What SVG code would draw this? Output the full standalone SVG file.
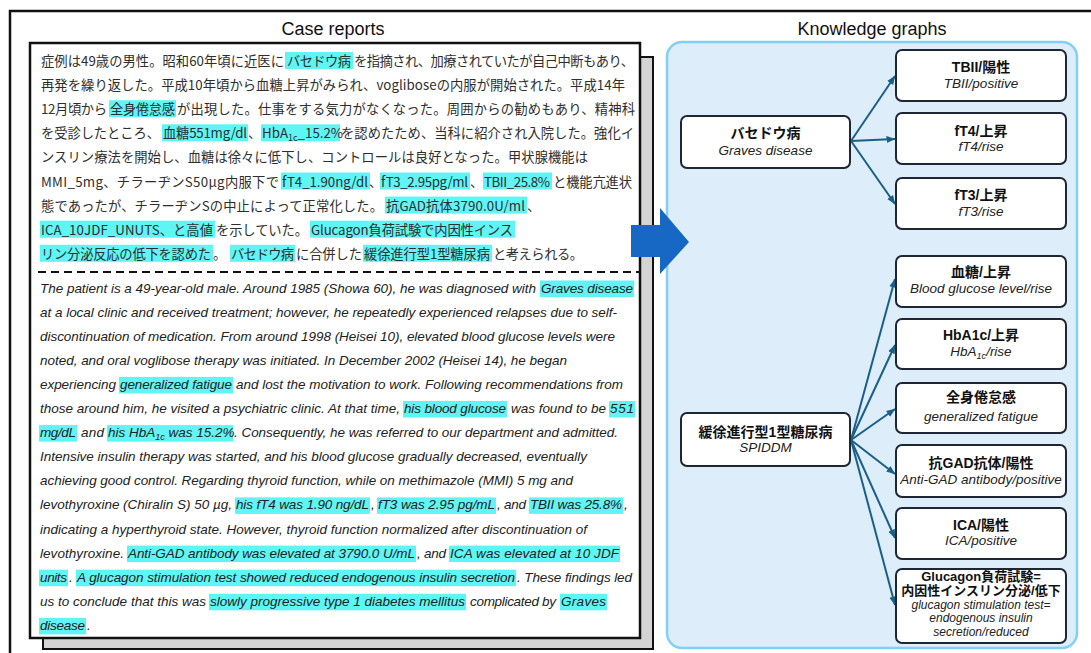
<svg xmlns="http://www.w3.org/2000/svg" width="1091" height="653" viewBox="0 0 1091 653">
<defs>
<style>
.jp{font-family:"Noto Sans CJK JP","Noto Sans CJK SC",sans-serif;font-size:13.3px;fill:#2e2e2e}
.en{font-family:"Liberation Sans",Arial,sans-serif;font-style:italic;font-size:13.5px;fill:#222}
.hl{fill:#5ff5f5}
.title{font-family:"Liberation Sans",Arial,sans-serif;font-size:18px;fill:#111;text-anchor:middle}
.box{fill:#fff;stroke:#1c2733;stroke-width:2}
.nb{font-family:"Liberation Sans","Noto Sans CJK JP",sans-serif;font-weight:bold;font-size:14px;fill:#111;text-anchor:middle}
.ni{font-family:"Liberation Sans",Arial,sans-serif;font-style:italic;font-size:13.5px;fill:#222;text-anchor:middle}
.nb2{font-size:13px}
.ni2{font-size:12px}
.edge{stroke:#1a5f87;stroke-width:2;fill:none;marker-end:url(#ah)}
</style>
<marker id="ah" markerWidth="9" markerHeight="8" refX="8.5" refY="4" orient="auto" markerUnits="userSpaceOnUse">
<path d="M0,0.5 L9,4 L0,7.5 Z" fill="#1a5f87"/>
</marker>
</defs>
<rect width="1091" height="653" fill="#fff"/>
<!-- outer frame -->
<rect x="10" y="11" width="1100" height="700" fill="none" stroke="#111" stroke-width="2.5"/>
<text class="title" x="333" y="34.5">Case reports</text>
<text class="title" x="872" y="34.5">Knowledge graphs</text>

<!-- case report document -->
<g id="case-report">
<rect x="43" y="57" width="610" height="592" fill="#d4d4d4" stroke="#111" stroke-width="2"/>
<rect x="30" y="43" width="610" height="595" fill="#fff" stroke="#111" stroke-width="2.5"/>
<!-- Japanese highlights -->
<g class="hl">
<rect x="285" y="52" width="68" height="17"/>
<rect x="109" y="100.2" width="67" height="17"/>
<rect x="162" y="124.3" width="86" height="17"/>
<rect x="261" y="124.3" width="79" height="17"/>
<rect x="281" y="172.5" width="89" height="17"/>
<rect x="380" y="172.5" width="90" height="17"/>
<rect x="483" y="172.5" width="69" height="17"/>
<rect x="385" y="196.6" width="142" height="17"/>
<rect x="40" y="220.7" width="175" height="17"/>
<rect x="310" y="220.7" width="205" height="17"/>
<rect x="40" y="244.8" width="173" height="17"/>
<rect x="230" y="244.8" width="65" height="17"/>
<rect x="363" y="244.8" width="129" height="17"/>
</g>
<text class="jp" y="66"><tspan x="41" textLength="243">症例は49歳の男性。昭和60年頃に近医に</tspan><tspan x="287" textLength="64">バセドウ病</tspan><tspan x="354" textLength="280">を指摘され、加療されていたが自己中断もあり、</tspan></text>
<text class="jp" y="90.1" x="41" textLength="584">再発を繰り返した。平成10年頃から血糖上昇がみられ、vogliboseの内服が開始された。平成14年</text>
<text class="jp" y="114.2"><tspan x="41" textLength="66">12月頃から</tspan><tspan x="110" textLength="65">全身倦怠感</tspan><tspan x="177" textLength="458">が出現した。仕事をする気力がなくなった。周囲からの勧めもあり、精神科</tspan></text>
<text class="jp" y="138.3"><tspan x="41" textLength="119">を受診したところ、</tspan><tspan x="163" textLength="84">血糖551mg/dl</tspan><tspan x="248">、</tspan><tspan x="262">HbA</tspan><tspan dy="3" font-size="9">1c</tspan><tspan dy="-3">_15.2%</tspan><tspan x="341" textLength="293">を認めたため、当科に紹介され入院した。強化イ</tspan></text>
<text class="jp" y="162.4" x="41" textLength="547">ンスリン療法を開始し、血糖は徐々に低下し、コントロールは良好となった。甲状腺機能は</text>
<text class="jp" y="186.5"><tspan x="41" textLength="238">MMI_5mg、チラーヂンS50μg内服下で</tspan><tspan x="282" textLength="86">fT4_1.90ng/dl</tspan><tspan x="369">、</tspan><tspan x="381" textLength="87">fT3_2.95pg/ml</tspan><tspan x="470">、</tspan><tspan x="484" textLength="66">TBII_25.8%</tspan><tspan x="553" textLength="79">と機能亢進状</tspan></text>
<text class="jp" y="210.6"><tspan x="41" textLength="342">態であったが、チラーヂンSの中止によって正常化した。</tspan><tspan x="386" textLength="139">抗GAD抗体3790.0U/ml</tspan><tspan x="527">、</tspan></text>
<text class="jp" y="234.7"><tspan x="41" textLength="172">ICA_10JDF_UNUTS、と高値</tspan><tspan x="216" textLength="92">を示していた。</tspan><tspan x="311" textLength="202">Glucagon負荷試験で内因性インス</tspan></text>
<text class="jp" y="258.8"><tspan x="41" textLength="170">リン分泌反応の低下を認めた</tspan><tspan x="213">。</tspan><tspan x="231" textLength="63">バセドウ病</tspan><tspan x="296" textLength="66">に合併した</tspan><tspan x="364" textLength="126">緩徐進行型1型糖尿病</tspan><tspan x="493" textLength="90">と考えられる。</tspan></text>

<line x1="38" y1="272" x2="640" y2="272" stroke="#111" stroke-width="2" stroke-dasharray="8 5"/>

<!-- English highlights -->
<g class="hl">
<rect x="540" y="280.5" width="94" height="16.5"/>
<rect x="119" y="376.9" width="114" height="16.5"/>
<rect x="403" y="401" width="104" height="16.5"/>
<rect x="609" y="401" width="26" height="16.5"/>
<rect x="39" y="425.1" width="38" height="16.5"/>
<rect x="107" y="425.1" width="126" height="16.5"/>
<rect x="235" y="497.4" width="135" height="16.5"/>
<rect x="377" y="497.4" width="119" height="16.5"/>
<rect x="529" y="497.4" width="94" height="16.5"/>
<rect x="127" y="545.6" width="289" height="16.5"/>
<rect x="449" y="545.6" width="171" height="16.5"/>
<rect x="39" y="569.7" width="29" height="16.5"/>
<rect x="76" y="569.7" width="440" height="16.5"/>
<rect x="209" y="593.8" width="257" height="16.5"/>
<rect x="560" y="593.8" width="47" height="16.5"/>
<rect x="39" y="617.9" width="47" height="16.5"/>
</g>
<text class="en" y="292.5"><tspan x="40" textLength="496">The patient is a 49-year-old male. Around 1985 (Showa 60), he was diagnosed with</tspan><tspan x="541" textLength="92">Graves disease</tspan></text>
<text class="en" y="316.6" x="40" textLength="577">at a local clinic and received treatment; however, he repeatedly experienced relapses due to self-</text>
<text class="en" y="340.7" x="40" textLength="575">discontinuation of medication. From around 1998 (Heisei 10), elevated blood glucose levels were</text>
<text class="en" y="364.8" x="40" textLength="527">noted, and oral voglibose therapy was initiated. In December 2002 (Heisei 14), he began</text>
<text class="en" y="388.9"><tspan x="40" textLength="76">experiencing</tspan><tspan x="120" textLength="112">generalized fatigue</tspan><tspan x="236" textLength="387">and lost the motivation to work. Following recommendations from</tspan></text>
<text class="en" y="413"><tspan x="40" textLength="360">those around him, he visited a psychiatric clinic. At that time,</tspan><tspan x="404" textLength="102">his blood glucose</tspan><tspan x="511" textLength="95">was found to be</tspan><tspan x="610" textLength="24">551</tspan></text>
<text class="en" y="437.1"><tspan x="40" textLength="36">mg/dL</tspan><tspan x="81" textLength="23">and</tspan><tspan x="108">his HbA</tspan><tspan dy="3" font-size="9">1c</tspan><tspan dy="-3"> was 15.2%</tspan><tspan x="234" textLength="384">. Consequently, he was referred to our department and admitted.</tspan></text>
<text class="en" y="461.2" x="40" textLength="547">Intensive insulin therapy was started, and his blood glucose gradually decreased, eventually</text>
<text class="en" y="485.3" x="40" textLength="533">achieving good control. Regarding thyroid function, while on methimazole (MMI) 5 mg and</text>
<text class="en" y="509.4"><tspan x="40" textLength="192">levothyroxine (Chiralin S) 50 µg,</tspan><tspan x="236" textLength="133">his fT4 was 1.90 ng/dL</tspan><tspan x="371">,</tspan><tspan x="378" textLength="117">fT3 was 2.95 pg/mL</tspan><tspan x="497" textLength="29">, and</tspan><tspan x="530" textLength="92">TBII was 25.8%</tspan><tspan x="624">,</tspan></text>
<text class="en" y="533.5" x="40" textLength="547">indicating a hyperthyroid state. However, thyroid function normalized after discontinuation of</text>
<text class="en" y="557.6"><tspan x="40" textLength="84">levothyroxine.</tspan><tspan x="128" textLength="287">Anti-GAD antibody was elevated at 3790.0 U/mL</tspan><tspan x="417" textLength="29">, and</tspan><tspan x="450" textLength="169">ICA was elevated at 10 JDF</tspan></text>
<text class="en" y="581.7"><tspan x="40" textLength="27">units</tspan><tspan x="69">.</tspan><tspan x="77" textLength="438">A glucagon stimulation test showed reduced endogenous insulin secretion</tspan><tspan x="517" textLength="115">. These findings led</tspan></text>
<text class="en" y="605.8"><tspan x="40" textLength="166">us to conclude that this was</tspan><tspan x="210" textLength="255">slowly progressive type 1 diabetes mellitus</tspan><tspan x="470" textLength="86">complicated by</tspan><tspan x="561" textLength="45">Graves</tspan></text>
<text class="en" y="629.9"><tspan x="40" textLength="45">disease</tspan><tspan x="87">.</tspan></text>
</g>

<!-- knowledge graph panel -->
<rect x="667" y="42" width="410" height="606" rx="15" fill="#ddedf9" stroke="#82d0f6" stroke-width="2.5"/>

<!-- big arrow -->
<polygon id="transform-arrow" points="631,225 660,225 660,208 689,242 660,274 660,257 631,257" fill="#1768c4"/>

<!-- connectors -->
<g id="connectors">
<path class="edge" d="M851,141 L895,76"/>
<path class="edge" d="M851,141 L895,139"/>
<path class="edge" d="M851,141 L895,204"/>
<path class="edge" d="M851,440 L895,279"/>
<path class="edge" d="M851,440 L895,345"/>
<path class="edge" d="M851,440 L895,409"/>
<path class="edge" d="M851,440 L895,474"/>
<path class="edge" d="M851,440 L895,538"/>
<path class="edge" d="M851,440 L895,605"/>
</g>

<!-- nodes -->
<g id="node-graves"><rect class="box" x="681" y="116" width="169" height="52" rx="6"/><text class="nb" x="765.5" y="138">バセドウ病</text><text class="ni" x="765.5" y="155">Graves disease</text></g>
<g id="node-spiddm"><rect class="box" x="681" y="413" width="169" height="53" rx="6"/><text class="nb" x="765.5" y="437">緩徐進行型1型糖尿病</text><text class="ni" x="765.5" y="452">SPIDDM</text></g>

<g id="node-tbii"><rect class="box" x="896" y="50" width="170" height="51" rx="6"/><text class="nb" x="981" y="72">TBII/陽性</text><text class="ni" x="981" y="88">TBII/positive</text></g>
<g id="node-ft4"><rect class="box" x="896" y="113" width="170" height="51" rx="6"/><text class="nb" x="981" y="136">fT4/上昇</text><text class="ni" x="981" y="151">fT4/rise</text></g>
<g id="node-ft3"><rect class="box" x="896" y="178" width="170" height="51" rx="6"/><text class="nb" x="981" y="200">fT3/上昇</text><text class="ni" x="981" y="216">fT3/rise</text></g>
<g id="node-bg"><rect class="box" x="896" y="256" width="170" height="51" rx="6"/><text class="nb" x="981" y="277">血糖/上昇</text><text class="ni" x="981" y="293">Blood glucose level/rise</text></g>
<g id="node-hba1c"><rect class="box" x="896" y="319" width="170" height="50" rx="6"/><text class="nb" x="981" y="340">HbA1c/上昇</text><text class="ni" x="981" y="356">HbA<tspan dy="3" font-size="9">1c</tspan><tspan dy="-3">/rise</tspan></text></g>
<g id="node-fatigue"><rect class="box" x="896" y="383" width="170" height="50" rx="6"/><text class="nb" x="981" y="402">全身倦怠感</text><text class="ni" x="981" y="421">generalized fatigue</text></g>
<g id="node-gad"><rect class="box" x="896" y="445" width="170" height="52" rx="6"/><text class="nb" x="981" y="468">抗GAD抗体/陽性</text><text class="ni" x="981" y="484">Anti-GAD antibody/positive</text></g>
<g id="node-ica"><rect class="box" x="896" y="508" width="170" height="51" rx="6"/><text class="nb" x="981" y="530">ICA/陽性</text><text class="ni" x="981" y="545">ICA/positive</text></g>
<g id="node-glucagon"><rect class="box" x="896" y="569" width="170" height="74" rx="6"/><text class="nb nb2" x="981" y="581">Glucagon負荷試験=</text><text class="nb nb2" x="981" y="594.5">内因性インスリン分泌/低下</text><text class="ni ni2" x="981" y="608.5">glucagon stimulation test=</text><text class="ni ni2" x="981" y="622">endogenous insulin</text><text class="ni ni2" x="981" y="635.5">secretion/reduced</text></g>
</svg>
